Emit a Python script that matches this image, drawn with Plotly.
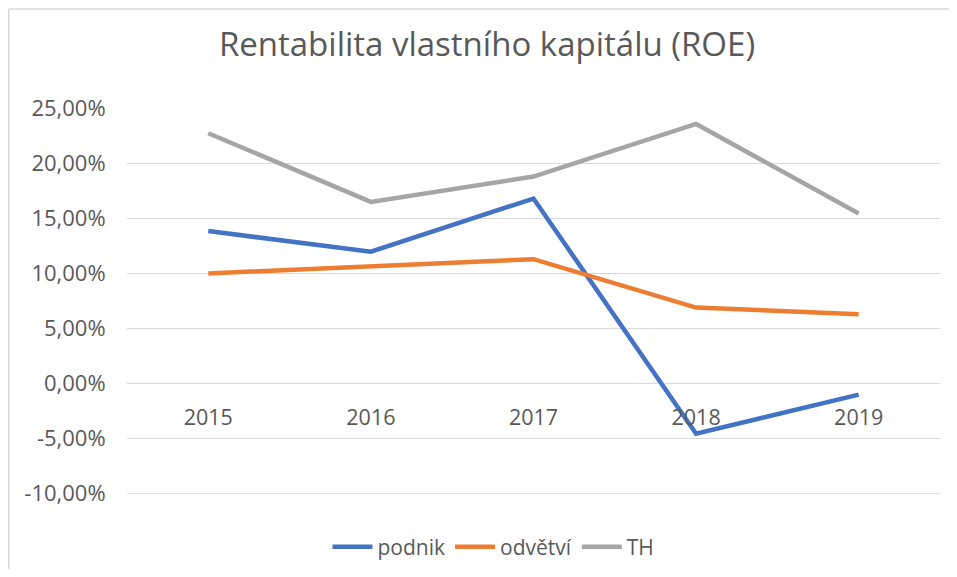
import plotly.graph_objects as go

years = ["2015", "2016", "2017", "2018", "2019"]
podnik = [0.1385, 0.1197, 0.1680, -0.0455, -0.0100]
odvetvi = [0.1000, 0.1060, 0.1130, 0.0690, 0.0630]
th = [0.2273, 0.1650, 0.1880, 0.2357, 0.1545]

y_tickvals = [-0.10, -0.05, 0.0, 0.05, 0.10, 0.15, 0.20, 0.25]
y_ticktext = ["-10,00%", "-5,00%", "0,00%", "5,00%", "10,00%", "15,00%", "20,00%", "25,00%"]

series = [
    ("podnik", podnik, "#4472C4"),
    ("odvětví", odvetvi, "#ED7D31"),
    ("TH", th, "#A5A5A5"),
]

FONT = "Open Sans"
TXT = "#595959"
GRID = "#D9D9D9"

fig = go.Figure()
for name, vals, col in series:
    fig.add_trace(go.Scatter(
        x=years, y=vals, name=name, mode="lines",
        line=dict(color=col, width=4.5),
    ))

# page has an 8px body margin; figure sized so the page does not scroll
OFF = 8
W, H = 957 - OFF, 577 - 2 * OFF
T = 108 - OFF
L = 127 - OFF
plot_bottom = 494 - OFF
B = H - plot_bottom
R = W - (940 - OFF)
ph = plot_bottom - T
pw = W - L - R

fig.update_layout(
    width=W, height=H,
    margin=dict(l=L, r=R, t=T, b=B, pad=0, autoexpand=False),
    paper_bgcolor="white", plot_bgcolor="white",
    font=dict(family=FONT, color=TXT, size=21),
    title=dict(
        text="Rentabilita vlastního kapitálu (ROE)",
        x=(487 - OFF) / W, xanchor="center", xref="container",
        y=1 - (44 - OFF) / H, yanchor="middle", yref="container",
        font=dict(family=FONT, size=33, color=TXT),
    ),
    xaxis=dict(
        type="category",
        anchor="free", position=10 / 35,
        showgrid=False, zeroline=False, showline=False,
        ticks="outside", ticklen=14, tickcolor="rgba(0,0,0,0)",
        tickfont=dict(family=FONT, size=21.5, color=TXT),
        range=[-0.5, 4.5],
    ),
    yaxis=dict(
        range=[-0.1002, 0.2502],
        tickmode="array", tickvals=y_tickvals, ticktext=y_ticktext,
        showgrid=True, gridcolor=GRID, gridwidth=1.3,
        zeroline=False, showline=False,
        ticks="outside", ticklen=16, tickcolor="rgba(0,0,0,0)",
        tickfont=dict(family=FONT, size=22, color=TXT),
    ),
    legend=dict(
        orientation="h", x=0.5 - 40 / pw, xanchor="center",
        y=-((547 - OFF) - plot_bottom) / ph, yanchor="middle",
        font=dict(family=FONT, size=21, color=TXT),
        itemwidth=40, bgcolor="rgba(0,0,0,0)",
    ),
    showlegend=True,
)

# bottom gridline (Plotly skips the one on the lower edge)
fig.add_shape(
    type="line", xref="paper", yref="y",
    x0=0, x1=1, y0=y_tickvals[0], y1=y_tickvals[0],
    line=dict(color=GRID, width=1.3), layer="below",
)

# outer chart border: left and top edges (the others fall outside the picture)
bx0 = (0.75 - L) / pw
bx1 = (W - L) / pw
by_top = (ph + T - 1) / ph
by_bot = -B / ph
fig.add_shape(type="line", xref="paper", yref="paper",
              x0=bx0, x1=bx0, y0=by_bot, y1=by_top,
              line=dict(color=GRID, width=1.5), layer="below")
fig.add_shape(type="line", xref="paper", yref="paper",
              x0=bx0, x1=bx1, y0=by_top, y1=by_top,
              line=dict(color=GRID, width=1.5), layer="below")

fig.write_html("out.html")
